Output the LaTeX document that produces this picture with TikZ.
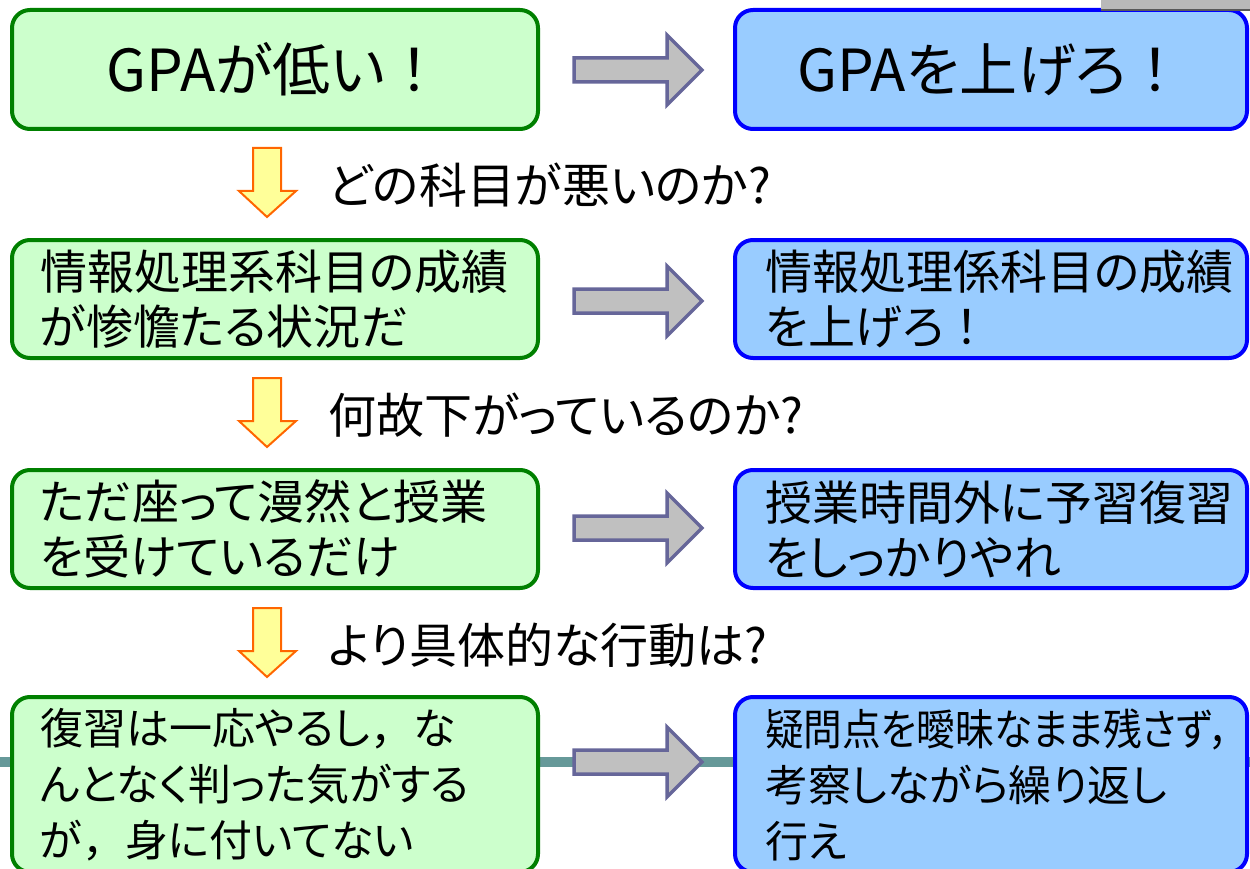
\documentclass[tikz,border=0pt]{standalone}
\usepackage{fontspec}
\setmainfont{Noto Sans CJK JP}[RawFeature={+palt}]
\newfontfamily\fullw{Noto Sans CJK JP}
\definecolor{boxgreen}{RGB}{0,128,0}
\definecolor{fillgreen}{RGB}{204,255,204}
\definecolor{boxblue}{RGB}{0,0,255}
\definecolor{fillblue}{RGB}{153,204,255}
\definecolor{arrowgray}{RGB}{192,192,192}
\definecolor{arrowedge}{RGB}{102,102,153}
\definecolor{arrowyellow}{RGB}{255,255,153}
\definecolor{arroworange}{RGB}{255,102,0}
\definecolor{teal}{RGB}{102,153,153}
\newcommand\bigtxt{\fontsize{58}{60}\selectfont}
\newcommand\midtxt{\fontsize{47}{55}\selectfont}
\newcommand\qtxt{\fontsize{48}{55}\selectfont}
\newcommand\smltxt{\fontsize{43}{56}\selectfont}
\tikzset{
  box/.style={draw, line width=4pt, rounded corners=18pt, inner ysep=0pt, align=left},
  gbox/.style={box, draw=boxgreen, fill=fillgreen, inner xsep=28pt, text width=470pt},
  bbox/.style={box, draw=boxblue, fill=fillblue, inner xsep=30pt, text width=452pt},
  grayarrow/.style={draw=arrowedge, fill=arrowgray, line width=3.5pt},
  downarrow/.style={draw=arroworange, fill=arrowyellow, line width=2pt},
}

\begin{document}
\begin{tikzpicture}[x=1pt, y=-1pt]
  \useasboundingbox (0,0) rectangle (1250,869);
  \clip (0,0) rectangle (1250,869);
  \draw[teal, line width=10pt] (0,762) -- (1250,762);
  \node[gbox, minimum height=119pt, align=center, font=\bigtxt] (g1) at (275,69.5) {GPAが低い{\fullw ！}};
  \node[bbox, minimum height=119pt, align=center, font=\bigtxt] (b1) at (991,69.5) {GPAを上げろ{\fullw ！}};
  \node[gbox, minimum height=118pt, font=\midtxt] (g2) at (275,299) {情報処理系科目の成績\\が惨憺たる状況だ};
  \node[bbox, minimum height=118pt, font=\midtxt] (b2) at (991,299) {情報処理係科目の成績\\を上げろ{\fullw ！}};
  \node[gbox, minimum height=118pt, font=\midtxt] (g3) at (275,529) {ただ座って漫然と授業\\を受けているだけ};
  \node[bbox, minimum height=118pt, font=\midtxt] (b3) at (991,529) {授業時間外に予習復習\\をしっかりやれ};
  \node[gbox, minimum height=175pt, font=\smltxt] (g4) at (275,784.5) {復習は一応やるし{\fullw ，}な\\んとなく判った気がする\\が{\fullw ，}身に付いてない};
  \node[bbox, minimum height=175pt, font=\smltxt] (b4) at (991,784.5) {\scalebox{0.9}[1]{疑問点を曖昧なまま残さず，}\\考察しながら繰り返し\\行え};
  \foreach \y in {70,301,528,762}
    \draw[grayarrow] (574,\y-12) -- (667,\y-12) -- (667,\y-35) -- (702,\y)
      -- (667,\y+35) -- (667,\y+12) -- (574,\y+12) -- cycle;
  \foreach \y/\q [count=\i] in {148/どの科目が悪いのか?, 378/何故下がっているのか?, 608/より具体的な行動は?} {
    \draw[downarrow] (253,\y) -- (281,\y) -- (281,\y+43) -- (296,\y+43)
      -- (267,\y+69) -- (239,\y+43) -- (253,\y+43) -- cycle;
    \node[anchor=west, inner sep=0pt, font=\qtxt] (q\i) at (328,\y+37) {\q};
  }
  \fill[gray!55] (1101,0) rectangle (1250,9);
  \draw[gray!70!black, line width=1.5pt] (1101,10) -- (1250,10);
\end{tikzpicture}
\end{document}
